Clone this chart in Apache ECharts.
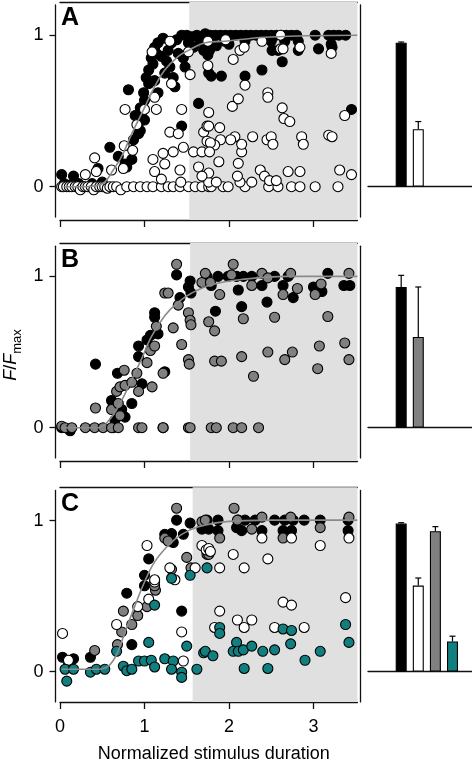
<!DOCTYPE html>
<html><head><meta charset="utf-8">
<script src="https://cdn.jsdelivr.net/npm/echarts@6/dist/echarts.min.js"></script>
<style>html,body{margin:0;padding:0;background:#fff}#c{width:472px;height:764px}</style>
</head><body><div id="c"></div>
<script>
// ---------- data ----------
const xTicks = [0, 1, 2, 3];
const yTicks = [0, 1];
const panelLetters = ['A', 'B', 'C'];
const shadeStart = [1.53, 1.54, 1.57];
const xLabel = 'Normalized stimulus duration';

const aBlack = [[0.02,0.08],[0.05,0.02],[0.10,0.01],[0.16,0.07],[0.22,0.02],[0.28,0.0],[0.38,0.02],[0.45,0.12],[0.50,0.03],
[0.59,0.26],[0.69,0.20],[0.77,0.15],[0.79,0.13],[0.85,0.18],[0.81,0.64],[0.87,0.31],[0.89,0.47],[0.93,0.35],[0.93,0.42],[0.95,0.37],[0.97,0.46],[1.00,0.44],[1.00,0.57],[0.95,0.52],[0.99,0.62],[1.02,0.72],[1.05,0.68],[1.05,0.77],[1.08,0.85],[1.10,0.81],[1.12,0.70],[1.12,0.92],[1.14,0.88],[1.16,0.62],[1.16,0.95],[1.20,0.86],[1.22,0.98],[1.24,0.75],[1.26,0.83],[1.28,0.90],[1.30,0.79],[1.32,0.95],[1.34,0.72],[1.36,0.66],[1.38,0.97],[1.40,0.88],[1.44,1.00],[1.44,0.40],[1.46,0.85],[1.48,0.79],[1.50,1.00],[1.52,0.95],[1.56,0.99],[1.58,0.92],[1.62,1.00],[1.64,0.55],[1.66,0.96],[1.70,0.90],[1.72,1.01],[1.74,0.93],[1.75,0.87],[1.76,0.75],[1.77,0.90],[1.78,1.00],[1.79,0.73],[1.80,0.96],[1.84,1.00],[1.85,0.93],[1.90,1.00],[1.91,0.73],[1.95,0.96],[1.96,1.00],[2.00,0.94],[2.02,1.00],[2.08,1.00],[2.14,1.00],[2.19,0.96],[2.19,0.73],[2.20,1.00],[2.26,1.00],[2.32,1.00],[2.38,1.00],[2.39,0.77],[2.44,1.00],[2.50,1.00],[2.50,0.96],[2.51,0.90],[2.56,1.00],[2.58,0.90],[2.62,1.00],[2.63,0.825],[2.66,0.96],[2.68,1.00],[2.74,1.00],[2.80,1.00],[2.82,0.96],[2.82,0.90],[3.02,1.00],[3.06,0.91],[3.18,1.00],[3.21,0.94],[3.22,0.92],[3.24,1.00],[3.30,1.00],[3.38,1.00],[3.45,0.51]];

const aWhite = [[0.02,0],[0.04,0],[0.08,0],[0.11,0],[0.14,0],[0.18,0],[0.21,0],[0.24,-0.02],[0.27,0],[0.30,0],[0.33,0],[0.37,0],[0.40,-0.02],[0.43,0],[0.47,0],[0.50,0],[0.53,0],[0.56,-0.01],[0.59,0],[0.63,0],[0.67,0],[0.72,-0.02],[0.79,0],[0.87,0],[0.95,0],[1.03,0],[1.10,0],[1.20,0],[1.28,0],[1.34,0],[1.42,0],[1.52,0],[1.60,0],[1.68,0],[1.76,0],[1.79,0],[1.93,0],[1.99,0],[2.19,0],[2.47,0],[2.58,0],[2.74,0],[2.84,0],[3.02,0],[3.29,0],
[1.76,0.03],[1.85,0.03],[2.13,0.03],[2.27,0.03],[1.76,0.09],[2.10,0.07],[2.37,0.11],[2.42,0.07],[2.48,0.04],[2.56,0.04],[2.70,0.10],[2.84,0.10],[3.31,0.11],[3.45,0.08],
[0.30,0.08],[0.41,0.19],[0.43,0.10],[0.61,0.11],[0.75,0.12],[0.76,0.27],[0.77,0.51],[0.86,0.24],[0.91,0.41],[1.00,0.51],[1.12,0.59],[1.14,0.51],[1.09,0.89],[1.30,0.96],[1.32,0.68],[1.52,0.89],[1.54,0.74],[1.44,0.51],[1.30,0.36],[1.40,0.35],[1.46,0.26],[1.34,0.23],[1.22,0.22],[1.24,0.15],[1.10,0.18],[1.12,0.10],[1.20,0.05],[1.42,0.11],[1.43,0.03],[1.58,0.23],[1.68,0.23],[1.70,0.36],[1.74,0.30],[1.74,0.40],[1.64,0.13],[1.68,0.07],
[1.88,0.165],[2.11,0.154],[2.15,0.23],[2.15,0.28],[2.07,0.33],[2.02,0.31],[1.90,0.31],[1.83,0.275],[1.78,0.29],[1.77,0.23],[1.76,0.40],[1.89,0.39],[2.28,0.33],[2.45,0.31],[2.50,0.33],[2.52,0.28],[2.86,0.33],[2.88,0.28],[3.18,0.34],[3.22,0.33],[1.76,0.49],[2.04,0.53],[2.11,0.58],[2.46,0.62],[2.46,0.59],[2.63,0.52],[2.65,0.45],[2.72,0.43],[3.37,0.47],[2.19,0.67],[2.05,0.84],[2.13,0.90],[2.18,0.92],[2.61,0.91],[2.64,0.91],[2.84,0.92],[3.21,0.88],[2.39,0.96],[2.61,1.00],[1.96,0.97],[1.75,0.96],[1.75,0.80]];

const bBlack = [[0.02,0.0],[0.12,-0.02],[0.63,0.0],[0.42,0.42],[0.68,0.36],[0.61,0.18],[0.63,0.14],[0.73,0.12],[0.77,0.07],[0.85,0.16],[0.65,0.05],[0.97,0.29],[0.93,0.47],[0.93,0.54],[1.03,0.58],[1.07,0.61],[1.12,0.76],[1.12,0.73],[1.16,0.62],[1.24,0.37],[1.38,1.01],[1.42,0.86],[1.54,0.97],[1.55,0.89],[1.52,0.93],[1.84,0.77],[1.87,1.00],[1.99,1.00],[2.09,1.00],[2.17,1.00],[2.27,1.00],[2.11,0.91],[2.15,0.80],[2.45,0.83],[2.39,0.94],[2.54,1.00],[2.64,0.94],[2.70,1.00],[2.76,0.86],[3.00,0.93],[3.10,0.90],[3.17,1.02],[3.36,0.94],[3.43,0.94],[1.79,0.94],[1.74,1.00],[1.22,0.0]];

const bGray = [[0.02,0.01],[0.06,0.0],[0.14,0.0],[0.30,0.0],[0.41,0.0],[0.51,0.0],[0.61,0.0],[0.69,0.0],[0.93,0.0],[0.97,0.0],[1.22,0.0],[1.52,0.0],[1.54,0.0],[1.79,0.0],[1.85,0.0],[2.05,0.0],[2.15,0.0],[2.35,0.0],
[0.42,0.13],[0.61,0.12],[0.69,0.16],[0.71,0.08],[0.67,0.24],[0.71,0.27],[0.76,0.38],[0.77,0.28],[0.85,0.30],[0.93,0.24],[0.91,0.36],[1.03,0.43],[1.09,0.27],[1.07,0.51],[1.12,0.54],[1.14,0.67],[1.22,0.36],[1.34,0.66],[1.44,0.55],[1.24,0.89],[1.28,0.89],[1.38,1.08],[1.40,0.81],[1.52,0.76],[1.54,0.71],[1.55,0.68],[1.52,0.45],[1.53,0.42],[1.68,0.96],[1.72,1.02],[1.78,0.96],[1.76,0.70],[1.83,0.64],[1.83,0.44],[1.91,0.44],[1.89,0.88],[2.05,1.08],[2.03,1.01],[2.15,0.47],[2.17,0.72],[2.27,0.94],[2.29,0.34],[2.39,1.02],[2.46,0.50],[2.46,0.99],[2.54,0.73],[2.64,0.88],[2.66,0.45],[2.73,1.02],[2.75,0.50],[2.81,0.92],[3.02,0.88],[3.05,0.39],[3.07,0.54],[3.09,0.95],[3.17,0.735],[3.37,0.56],[3.42,0.45],[3.42,1.02]];

const cBlack = [[0.03,0.08],[0.16,0.07],[0.10,0.03],[0.36,0.08],[0.79,0.51],[0.85,0.165],[1.00,0.63],[1.05,0.74],[1.00,0.56],[1.44,0.39],[1.38,1.00],[1.54,0.98],[1.32,0.91],[1.34,0.85],[1.24,0.905],[1.46,0.905],[1.68,0.94],
[1.74,1.00],[1.87,1.00],[2.11,1.00],[2.19,1.00],[2.31,1.00],[2.54,1.00],[2.66,1.00],[2.76,1.00],[2.89,1.00],[3.08,1.00],[3.41,1.00],
[1.76,0.94],[1.87,0.93],[2.09,0.95],[2.15,0.93],[2.39,0.93],[2.64,0.93],[2.74,0.93],[3.41,0.93]];

const cGray = [[0.41,0.126],[0.68,0.165],[0.73,0.25],[0.75,0.39],[0.85,0.30],[0.92,0.36],[1.03,0.42],[1.13,0.53],[1.12,0.56],[1.24,0.88],[1.28,0.86],[1.32,0.67],[1.38,1.08],[1.50,0.75],[1.55,0.68],[1.68,0.99],[1.74,0.77],[1.76,0.77],[1.89,0.88],[2.06,1.08],[2.10,1.00],[2.27,0.94],[2.39,1.02],[2.64,0.88],[2.73,1.02],[3.08,0.95],[3.42,1.02],[1.72,1.00]];

const cWhite = [[0.03,0.24],[0.10,0.06],[1.03,0.83],[0.67,0.30],[0.92,0.42],[1.05,0.47],[1.12,0.585],[1.12,0.60],[1.30,0.68],[1.36,0.60],[1.44,0.25],[1.46,0.055],[1.60,0.68],[1.68,0.83],[1.73,0.80],[1.76,0.81],[1.78,0.79],[1.89,0.68],[1.89,0.39],[1.83,0.28],[2.05,0.77],[2.18,0.68],[2.10,0.33],[2.18,0.28],[2.27,0.33],[2.39,0.88],[2.46,0.74],[2.54,0.28],[2.64,0.45],[2.74,0.43],[2.74,0.88],[2.89,0.28],[3.08,0.83],[3.38,0.48],[3.42,0.88]];

const cTeal = [[0.08,-0.08],[0.06,0.0],[0.16,0.0],[0.36,-0.02],[0.43,0.0],[0.53,0.0],[0.67,0.12],[0.75,0.02],[0.79,-0.01],[0.85,0.0],[0.93,0.055],[1.00,0.055],[1.08,0.06],[1.12,0.015],[1.05,0.18],[1.12,0.43],[1.24,0.07],[1.34,0.055],[1.32,0.0],[1.44,-0.02],[1.44,-0.055],[1.50,0.155],[1.32,0.61],[1.54,0.63],[1.62,0.0],[1.70,0.11],[1.74,0.68],[1.72,0.12],[1.81,0.09],[1.89,0.28],[1.89,0.24],[2.09,0.18],[2.05,0.12],[2.11,0.12],[2.17,0.13],[2.27,0.155],[2.40,0.12],[2.54,0.13],[2.18,0.005],[2.46,0.005],[2.64,0.27],[2.74,0.26],[2.73,0.17],[2.90,0.06],[3.08,0.12],[3.38,0.30],[3.42,0.18]];

const fitA = [[0.05,0],[0.3,0],[0.45,0.01],[0.53,0.03],[0.63,0.11],[0.73,0.20],[0.85,0.35],[0.99,0.51],[1.12,0.66],[1.24,0.77],[1.40,0.86],[1.52,0.90],[1.72,0.95],[1.95,0.96],[2.39,0.985],[2.90,0.996],[3.52,1.0]];
const fitB = [[0.02,0],[0.30,0],[0.45,0.0],[0.61,0.07],[0.73,0.18],[0.85,0.32],[0.97,0.46],[1.08,0.60],[1.24,0.74],[1.40,0.83],[1.56,0.89],[1.79,0.945],[2.15,0.98],[2.70,1.0],[3.52,1.0]];
const fitC = [[0.02,0],[0.30,0],[0.45,0],[0.57,0.02],[0.67,0.10],[0.77,0.25],[0.89,0.43],[1.00,0.585],[1.12,0.72],[1.28,0.83],[1.44,0.905],[1.64,0.955],[1.91,0.987],[2.50,1.0],[3.52,1.0]];

const barMeans = [[0.95, 0.38], [0.93, 0.60], [0.98, 0.57, 0.93, 0.20]];
const barErrs  = [[0.005, 0.05], [0.077, 0.33], [0.006, 0.05, 0.03, 0.035]];
const barColors = [['#000000', '#ffffff'], ['#000000', '#808080'], ['#000000', '#ffffff', '#808080', '#117f80']];

// ---------- layout ----------
const FONT = 'Liberation Sans, Arial, sans-serif';
const y0s = [186.7, 427.7, 671.7];
const units = [151.5, 151.3, 151.1];
const XMAX = 3.52;

const panels = [
  [{d: aBlack, c: '#000000'}, {d: aWhite, c: '#ffffff'}],
  [{d: bBlack, c: '#000000'}, {d: bGray, c: '#808080'}],
  [{d: cBlack, c: '#000000'}, {d: cGray, c: '#808080'}, {d: cWhite, c: '#ffffff'}, {d: cTeal, c: '#117f80'}]
];
const fits = [fitA, fitB, fitC];

const grid = [], xAxis = [], yAxis = [], series = [], title = [];
const AX = {lineStyle: {color: '#111', width: 1.3}};

for (let i = 0; i < 3; i++) {
  const y0 = y0s[i], u = units[i];
  const gS = grid.length;
  grid.push({left: 60, width: 297.4, top: y0 - 1.22 * u, height: 1.44 * u});
  grid.push({left: 55.5, width: 10, top: y0 - 1.2 * u, height: 1.4 * u});
  grid.push({left: 368, width: 104, top: y0 - 1.2 * u, height: 1.4 * u});

  const last = i === 2;
  const xb = xAxis.length;
  xAxis.push({gridIndex: gS, type: 'value', min: 0, max: XMAX, position: 'bottom',
    axisLine: {show: true, onZero: false, ...AX},
    axisTick: {show: true, length: 7, customValues: xTicks, lineStyle: {color: '#111', width: 1.3}},
    axisLabel: {show: last, customValues: xTicks, margin: 16, fontSize: 18, color: '#000', fontFamily: FONT},
    splitLine: {show: false},
    name: last ? xLabel : '', nameLocation: 'middle', nameGap: 43,
    nameTextStyle: {fontSize: 18, color: '#000', fontFamily: FONT, padding: [0, 0, 0, 10]}
  });
  xAxis.push({gridIndex: gS, type: 'value', min: 0, max: XMAX, position: 'top',
    axisLine: {show: true, onZero: false, ...AX}, axisTick: {show: false}, axisLabel: {show: false}, splitLine: {show: false}});
  xAxis.push({gridIndex: gS + 1, type: 'value', min: 0, max: 1, show: false});
  xAxis.push({gridIndex: gS + 2, type: 'value', min: -0.94, max: 5.14,
    axisLine: {show: true, onZero: true, ...AX}, axisTick: {show: false}, axisLabel: {show: false}, splitLine: {show: false}});

  const yb = yAxis.length;
  yAxis.push({gridIndex: gS, type: 'value', min: -0.22, max: 1.22, show: false});
  yAxis.push({gridIndex: gS + 1, type: 'value', min: -0.2, max: 1.2, position: 'left',
    axisLine: {show: true, onZero: false, ...AX},
    axisTick: {show: true, length: 6, customValues: yTicks, lineStyle: {color: '#111', width: 1.3}},
    axisLabel: {customValues: yTicks, margin: 12, fontSize: 18, color: '#000', fontFamily: FONT},
    splitLine: {show: false}});
  yAxis.push({gridIndex: gS + 2, type: 'value', min: -0.2, max: 1.2, position: 'left', offset: 7.3,
    axisLine: {show: true, onZero: false, ...AX}, axisTick: {show: false}, axisLabel: {show: false}, splitLine: {show: false}});

  panels[i].forEach((grp, k) => {
    const s = {type: 'scatter', xAxisIndex: xb, yAxisIndex: yb, data: grp.d, symbolSize: 10, z: 2,
      itemStyle: {color: grp.c, borderColor: '#000', borderWidth: 1.1, opacity: 1}, silent: true, animation: false};
    if (k === 0) s.markArea = {silent: true, itemStyle: {color: '#e0e0e0'}, data: [[{xAxis: shadeStart[i]}, {xAxis: XMAX}]]};
    series.push(s);
  });
  series.push({type: 'line', xAxisIndex: xb, yAxisIndex: yb, data: fits[i], smooth: 0.4, showSymbol: false, z: 5,
    lineStyle: {color: '#8a8a8a', width: 1.6}, silent: true, animation: false});

  const bars = barMeans[i].map((v, k) => ({value: [k + 1, v], itemStyle: {color: barColors[i][k]}}));
  series.push({type: 'bar', xAxisIndex: xb + 3, yAxisIndex: yb + 2, data: bars, barWidth: 11, z: 2,
    itemStyle: {borderColor: '#000', borderWidth: 1.1}, silent: true, animation: false});
  series.push({type: 'custom', xAxisIndex: xb + 3, yAxisIndex: yb + 2, z: 3, silent: true, animation: false,
    data: barMeans[i].map((v, k) => [k + 1, v, barErrs[i][k]]),
    encode: {x: 0, y: 1},
    renderItem: (params, api) => {
      const x = api.value(0), y = api.value(1), e = api.value(2);
      const p1 = api.coord([x, y]), p2 = api.coord([x, y + e]);
      return {type: 'group', children: [
        {type: 'line', shape: {x1: p1[0], y1: p1[1], x2: p2[0], y2: p2[1]}, style: {stroke: '#000', lineWidth: 1.2}},
        {type: 'line', shape: {x1: p2[0] - 3, y1: p2[1], x2: p2[0] + 3, y2: p2[1]}, style: {stroke: '#000', lineWidth: 1.2}}
      ]};
    }});

  title.push({text: panelLetters[i], left: 61, top: y0 - 1.16 * u - 5, padding: 0,
    textStyle: {fontSize: 25, fontWeight: 'bold', color: '#000', fontFamily: FONT}});
}

const chart = echarts.init(document.getElementById('c'), null, {renderer: 'canvas'});
chart.setOption({
  animation: false,
  backgroundColor: '#fff',
  title, grid, xAxis, yAxis, series,
  graphic: [{
    type: 'text', x: 13, y: 355, rotation: Math.PI / 2,
    style: {
      text: '{it|F}{n|/}{it|F}{sub|max}', align: 'center', verticalAlign: 'middle',
      rich: {
        it: {fontStyle: 'italic', fontSize: 18, fontFamily: FONT, fill: '#000', color: '#000', verticalAlign: 'bottom', padding: [0, 0, 4, 0]},
        n: {fontSize: 18, fontFamily: FONT, fill: '#000', color: '#000', verticalAlign: 'bottom', padding: [0, 0, 4, 0]},
        sub: {fontSize: 13, fontFamily: FONT, fill: '#000', color: '#000', verticalAlign: 'bottom'}
      }
    }
  }]
});
</script>
</body></html>
